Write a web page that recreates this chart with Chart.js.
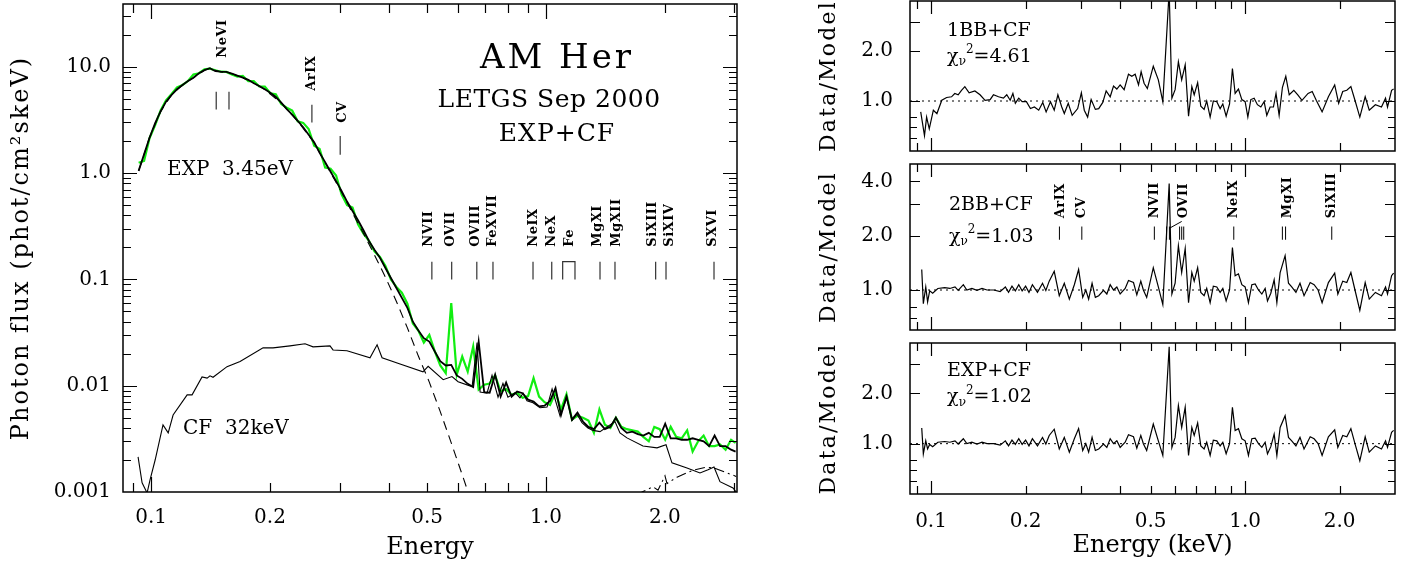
<!DOCTYPE html>
<html>
<head>
<meta charset="utf-8">
<script src="https://cdn.jsdelivr.net/npm/chart.js@4.4.1/dist/chart.umd.min.js"></script>
<style>
  body { margin: 0; background: #fff; }
  #wrap { position: relative; width: 1417px; height: 566px; }
  canvas { position: absolute; }
</style>
</head>
<body>
<div id="wrap">
  <canvas id="fluxChart" width="760" height="566" style="left:0;top:0"></canvas>
  <canvas id="ratio1" width="637" height="157" style="left:780px;top:0"></canvas>
  <canvas id="ratio2" width="637" height="180" style="left:780px;top:157px"></canvas>
  <canvas id="ratio3" width="637" height="229" style="left:780px;top:337px"></canvas>
</div>
<script>
// ---- spectrum (left panel), keV / phot cm^-2 s^-1 keV^-1 ----
var energy = [0.0930, 0.0960, 0.0991, 0.1024, 0.1057, 0.1091, 0.1127, 0.1163, 0.1201, 0.1240,
  0.1280, 0.1322, 0.1365, 0.1409, 0.1455, 0.1502, 0.1551, 0.1602, 0.1654, 0.1707,
  0.1763, 0.1820, 0.1879, 0.1941, 0.2004, 0.2069, 0.2136, 0.2206, 0.2277, 0.2351,
  0.2428, 0.2506, 0.2588, 0.2672, 0.2759, 0.2848, 0.2941, 0.3036, 0.3135, 0.3237,
  0.3342, 0.3450, 0.3562, 0.3678, 0.3798, 0.3921, 0.4048, 0.4180, 0.4315, 0.4457,
  0.4601, 0.4751, 0.4905, 0.5064, 0.5229, 0.5398, 0.5574, 0.5755, 0.5943, 0.6136,
  0.6335, 0.6541, 0.6753, 0.6973, 0.7199, 0.7433, 0.7675, 0.7925, 0.8182, 0.8448,
  0.8723, 0.9007, 0.9300, 0.9603, 0.9915, 1.0238, 1.0570, 1.0914, 1.1268, 1.1634,
  1.2012, 1.2403, 1.2806, 1.3222, 1.3652, 1.4096, 1.4555, 1.5027, 1.5515, 1.6020,
  1.6540, 1.7077, 1.7632, 1.8206, 1.8797, 1.9408, 2.0035, 2.0687, 2.1359, 2.2054,
  2.2771, 2.3510, 2.4276, 2.5064, 2.5882, 2.6722, 2.7590, 2.8489, 2.9414, 3.0200];

var dataFlux = [1.25, 1.30, 2.13, 2.83, 3.88, 4.84, 5.56, 6.4, 6.75, 7.35,
  8.45, 8.7, 9.49, 9.6, 9.28, 9.0, 8.95, 8.48, 8.09, 8.22,
  7.32, 7.35, 6.53, 6.52, 5.64, 5.51, 4.46, 4.12, 3.87, 3.07,
  2.97, 2.6, 1.81, 1.69, 1.13, 1.10, 0.95, 0.63, 0.50, 0.475,
  0.33, 0.27, 0.23, 0.184, 0.163, 0.134, 0.100, 0.085, 0.075, 0.059,
  0.0385, 0.033, 0.0255, 0.030, 0.021, 0.0155, 0.0131, 0.0598, 0.0127, 0.0188,
  0.0136, 0.0234, 0.0092, 0.0102, 0.0105, 0.0125, 0.0088, 0.0093, 0.0082, 0.0086,
  0.0077, 0.0080, 0.0118, 0.0079, 0.0070, 0.0066, 0.0086, 0.0060, 0.0083, 0.0048,
  0.0052, 0.0050, 0.0047, 0.0036, 0.0060, 0.0043, 0.0040, 0.0050, 0.0041, 0.0039,
  0.0038, 0.0037, 0.0033, 0.0030, 0.0041, 0.0039, 0.0031, 0.0041, 0.0033, 0.0032,
  0.0038, 0.0024, 0.0030, 0.0034, 0.0027, 0.0027, 0.0028, 0.0025, 0.0031, 0.0029];

var modelFlux = [1.05, 1.5, 2.15, 2.95, 3.8, 4.7, 5.45, 6.15, 6.75, 7.35,
  7.9, 8.7, 9.3, 9.7, 9.1, 9.0, 8.95, 8.65, 8.25, 7.9,
  7.55, 7.0, 6.6, 6.15, 5.7, 5.2, 4.6, 4.0, 3.55, 3.1,
  2.7, 2.3, 1.95, 1.55, 1.27, 1.03, 0.84, 0.68, 0.54, 0.44,
  0.36, 0.29, 0.23, 0.19, 0.16, 0.128, 0.103, 0.083, 0.067, 0.054,
  0.040, 0.033, 0.028, 0.026, 0.021, 0.017, 0.0155, 0.0157, 0.0125, 0.0116,
  0.0104, 0.0097, 0.026, 0.0087, 0.0086, 0.0127, 0.0079, 0.0107, 0.0079, 0.0088,
  0.0085, 0.0074, 0.0071, 0.0064, 0.0065, 0.0072, 0.0095, 0.0053, 0.0079, 0.0048,
  0.0056, 0.0046, 0.0041, 0.0039, 0.0045, 0.0039, 0.0041, 0.0050, 0.0040, 0.0036,
  0.0037, 0.0035, 0.0034, 0.0036, 0.0033, 0.0033, 0.0044, 0.0032, 0.0032, 0.0031,
  0.0031, 0.0032, 0.0031, 0.0030, 0.0027, 0.0034, 0.0027, 0.0027, 0.0025, 0.0024];

// EXP component (dashed)
var expEnergy = [0.0930, 0.0991, 0.1057, 0.1127, 0.1201, 0.1280, 0.1365, 0.1409, 0.1502, 0.1602,
  0.1763, 0.1941, 0.2136, 0.2351, 0.2588, 0.2848, 0.3036, 0.3237, 0.3450, 0.3678,
  0.3921, 0.4180, 0.4457, 0.4751, 0.5064, 0.5398, 0.5755, 0.6136, 0.6541];
var expFlux = [1.05, 2.15, 3.8, 5.45, 6.75, 7.9, 9.3, 9.65, 8.95, 8.6,
  7.5, 6.1, 4.57, 3.08, 1.93, 1.01, 0.66, 0.42, 0.27, 0.17,
  0.105, 0.062, 0.035, 0.019, 0.0108, 0.0057, 0.0029, 0.00145, 0.00072];

// CF component (thin line)
var cfEnergy = [0.0927, 0.0949, 0.0977, 0.0994, 0.1024, 0.1072, 0.1105, 0.1137, 0.1234, 0.1270,
  0.1346, 0.1386, 0.1410, 0.1435, 0.1557, 0.1680, 0.1921, 0.2036, 0.2248, 0.2454,
  0.2571, 0.2838, 0.2889, 0.3134, 0.3584, 0.3735, 0.3845, 0.4270, 0.4880, 0.5030,
  0.5490, 0.5780, 0.5990, 0.6500, 0.6690, 0.6810, 0.7090, 0.7300, 0.7560, 0.7780,
  0.8010, 0.8350, 0.8590, 0.8750, 0.8950, 0.9270, 0.9660, 1.0060, 1.0360, 1.0850,
  1.1300, 1.1640, 1.1980, 1.2330, 1.2770, 1.3150, 1.3700, 1.4950, 1.5390, 1.6030,
  1.7600, 1.9100, 2.0130, 2.0840, 2.2750, 2.4540, 2.5720, 2.6630, 2.7570, 2.9750, 3.0300];
var cfFlux = [0.00214, 0.00122, 0.00098, 0.0013, 0.0020, 0.00428, 0.0036, 0.0053, 0.0082, 0.0082,
  0.0121, 0.0118, 0.0124, 0.0120, 0.0151, 0.0169, 0.0227, 0.0227, 0.0237, 0.0248,
  0.0232, 0.0237, 0.0217, 0.0213, 0.0183, 0.0243, 0.0183, 0.0160, 0.0135, 0.0152,
  0.0114, 0.0122, 0.0109, 0.0098, 0.0255, 0.0087, 0.0085, 0.0125, 0.0078, 0.0105,
  0.0078, 0.0086, 0.0077, 0.0085, 0.0072, 0.0069, 0.0062, 0.0063, 0.0093, 0.0052,
  0.0077, 0.0047, 0.0054, 0.0045, 0.0040, 0.0038, 0.0037, 0.0046, 0.0036, 0.00323,
  0.00271, 0.0026, 0.00278, 0.00188, 0.00168, 0.00151, 0.00162, 0.00172, 0.00125, 0.00109, 0.00100];

// hard component (dash-dot)
var ddEnergy = [1.70, 1.75, 1.866, 1.921, 2.001, 2.025, 2.146, 2.356, 2.527, 2.647, 2.96, 3.03];
var ddFlux = [0.00092, 0.00100, 0.00112, 0.00104, 0.00142, 0.00120, 0.00138, 0.00160, 0.00170, 0.00170, 0.00145, 0.00140];

// line identifications, left panel
var markEnergy = [0.1462, 0.1575, 0.2554, 0.3012, 0.514, 0.577, 0.668, 0.734, 0.927, 1.034, 1.370, 1.495, 1.895, 2.013, 2.663];
var markLo = [3.97, 3.97, 2.99, 1.49, 0.1, 0.1, 0.1, 0.1, 0.1, 0.1, 0.1, 0.1, 0.1, 0.1, 0.1];
var markHi = [5.82, 5.82, 4.39, 2.24, 0.147, 0.147, 0.147, 0.147, 0.147, 0.147, 0.147, 0.147, 0.147, 0.147, 0.147];
var feEnergy = [1.102, 1.102, 1.184, 1.184];
var feFlux = [0.1, 0.147, 0.147, 0.1];
var lineNames = ['NeVI', 'ArIX', 'CV', 'NVII', 'OVII', 'OVIII', 'FeXVII', 'NeIX', 'NeX', 'Fe', 'MgXI', 'MgXII', 'SiXIII', 'SiXIV', 'SXVI'];
var lineNameE = [0.152, 0.2557, 0.306, 0.503, 0.575, 0.665, 0.734, 0.932, 1.036, 1.150, 1.354, 1.512, 1.866, 2.061, 2.647];
var lineNameF = [12.2, 5.95, 2.97, 0.203, 0.203, 0.203, 0.203, 0.203, 0.203, 0.203, 0.203, 0.203, 0.203, 0.203, 0.203];

// ---- data/model ratios (right panels) ----
var ratioEnergy = [0.0934, 0.0945, 0.0962, 0.0975, 0.0990, 0.1012, 0.1051, 0.1105, 0.1148, 0.1192,
  0.1220, 0.1267, 0.1300, 0.1349, 0.1400, 0.1453, 0.1507, 0.1583, 0.1660, 0.1724,
  0.1765, 0.1810, 0.1855, 0.1902, 0.1950, 0.2000, 0.2050, 0.2102, 0.2182, 0.2264,
  0.2320, 0.2378, 0.2467, 0.2560, 0.2656, 0.2756, 0.2859, 0.2950, 0.3040, 0.3110,
  0.3175, 0.3256, 0.3335, 0.3418, 0.3541, 0.3628, 0.3718, 0.3810, 0.3904, 0.4000,
  0.4150, 0.4252, 0.4411, 0.4520, 0.4654, 0.4742, 0.4859, 0.5100, 0.5292, 0.5469,
  0.5730, 0.5845, 0.5985, 0.6130, 0.6280, 0.6444, 0.6604, 0.6765, 0.6884, 0.7060,
  0.7225, 0.7402, 0.7545, 0.7737, 0.7920, 0.8125, 0.8325, 0.8490, 0.8700, 0.8920,
  0.9110, 0.9293, 0.9520, 0.9761, 1.0000, 1.0245, 1.0503, 1.0761, 1.1025, 1.1302,
  1.1580, 1.1780, 1.2070, 1.2370, 1.2618, 1.2925, 1.3405, 1.3740, 1.407, 1.451,
  1.495, 1.540, 1.611, 1.658, 1.707, 1.758, 1.841, 1.928, 1.973, 2.045,
  2.107, 2.171, 2.237, 2.318, 2.411, 2.484, 2.598, 2.717, 2.799, 2.840,
  2.926, 2.970];

var ratioExpCF = [1.24, 0.87, 1.04, 0.93, 0.99, 0.96, 1.02, 1.03, 1.02, 1.04,
  0.995, 1.07, 1.0, 1.02, 0.995, 1.02, 1.0, 1.0, 0.98, 1.04,
  0.97, 1.05, 0.99, 1.07, 0.99, 1.05, 0.97, 1.07, 0.97, 1.09,
  0.995, 1.12, 1.22, 0.93, 1.09, 0.89, 1.07, 1.23, 0.91, 1.0,
  0.89, 1.09, 0.91, 0.93, 0.995, 0.95, 1.07, 1.0, 1.04, 0.95,
  1.02, 1.13, 1.10, 0.94, 1.12, 1.0, 0.91, 1.31, 1.04, 0.85,
  3.8, 0.95, 1.09, 1.69, 1.25, 1.65, 0.85, 1.25, 1.12, 1.33,
  0.97, 0.93, 1.02, 0.85, 1.05, 1.04, 0.97, 1.02, 0.87, 1.0,
  1.65, 1.2, 1.23, 1.07, 1.04, 0.85, 1.07, 1.08, 1.0, 0.95,
  1.02, 0.87, 0.96, 1.14, 0.85, 1.25, 1.47, 1.09, 1.04, 0.97,
  1.09, 0.93, 1.10, 1.07, 1.0, 0.85, 1.10, 1.21, 0.95, 1.12,
  1.10, 1.23, 1.0, 0.79, 1.10, 0.89, 0.97, 0.93, 1.04, 0.95,
  1.17, 1.2];

var ratio2BB = [1.30, 0.84, 1.04, 0.86, 0.99, 0.96, 1.02, 1.03, 1.02, 1.04,
  0.995, 1.07, 1.0, 1.02, 0.995, 1.02, 1.0, 1.0, 0.98, 1.04,
  0.97, 1.05, 0.99, 1.07, 0.99, 1.05, 0.97, 1.07, 0.97, 1.09,
  0.995, 1.12, 1.27, 0.93, 1.09, 0.89, 1.07, 1.30, 0.91, 1.0,
  0.89, 1.09, 0.91, 0.93, 0.995, 0.95, 1.07, 1.0, 1.04, 0.95,
  1.02, 1.13, 1.10, 0.94, 1.12, 1.0, 0.91, 1.33, 1.04, 0.83,
  3.9, 0.95, 1.09, 1.76, 1.25, 1.70, 0.85, 1.25, 1.12, 1.33,
  0.97, 0.93, 1.02, 0.85, 1.05, 1.04, 0.97, 1.02, 0.87, 1.0,
  1.72, 1.2, 1.23, 1.07, 1.04, 0.85, 1.07, 1.08, 1.0, 0.95,
  1.02, 0.87, 0.96, 1.14, 0.85, 1.25, 1.55, 1.09, 1.04, 0.97,
  1.09, 0.93, 1.10, 1.07, 1.0, 0.85, 1.10, 1.24, 0.95, 1.12,
  1.10, 1.25, 1.0, 0.77, 1.10, 0.89, 0.97, 0.93, 1.04, 0.95,
  1.20, 1.24];

var ratio1Energy = [0.0927, 0.0953, 0.0968, 0.0987, 0.1017, 0.1044, 0.1082, 0.1121, 0.1162, 0.1190,
  0.1220, 0.1250, 0.1281, 0.1322, 0.1379, 0.1432, 0.1486, 0.1542, 0.1580, 0.1640,
  0.1700, 0.1742, 0.1786, 0.1822, 0.1855, 0.1902, 0.1950, 0.2012, 0.2072, 0.2133,
  0.2202, 0.2268, 0.2325, 0.2400, 0.2467, 0.2534, 0.2607, 0.2656, 0.2734, 0.2814,
  0.2930, 0.3010, 0.3075, 0.3152, 0.3234, 0.3335, 0.3418, 0.3522, 0.3610, 0.3718,
  0.3810, 0.3904, 0.4000, 0.4119, 0.4252, 0.4357, 0.4465, 0.4577, 0.4665, 0.4767,
  0.4883, 0.5100, 0.5292, 0.5469, 0.5730, 0.5845, 0.5985, 0.6130, 0.6280, 0.6444,
  0.6604, 0.6765, 0.6884, 0.7060, 0.7225, 0.7402, 0.7545, 0.7737, 0.7920, 0.8125,
  0.8325, 0.8490, 0.8700, 0.8920, 0.9110, 0.9293, 0.9520, 0.9761, 1.0000, 1.0200,
  1.0426, 1.0682, 1.0943, 1.1220, 1.1493, 1.1720, 1.2010, 1.2305, 1.2540, 1.2830,
  1.3145, 1.3472, 1.3815, 1.429, 1.471, 1.517, 1.586, 1.635, 1.684, 1.758,
  1.841, 1.928, 1.985, 2.045, 2.107, 2.171, 2.237, 2.318, 2.411, 2.484,
  2.598, 2.717, 2.799, 2.840, 2.926, 2.970];
var ratio1BB = [0.86, 0.62, 0.80, 0.68, 0.88, 0.84, 1.01, 1.05, 1.06, 1.11,
  1.09, 1.16, 1.22, 1.12, 1.15, 1.09, 1.01, 1.02, 1.09, 1.06,
  1.04, 1.09, 1.01, 1.11, 0.97, 1.04, 0.99, 0.99, 0.90, 0.92,
  0.88, 0.98, 0.86, 0.99, 0.88, 1.09, 0.92, 0.84, 0.97, 0.82,
  0.90, 1.12, 0.88, 0.80, 1.02, 0.89, 0.90, 0.98, 1.15, 1.06,
  1.23, 1.18, 1.25, 1.17, 1.45, 1.41, 1.45, 1.25, 1.50, 1.28,
  1.19, 1.62, 1.34, 0.99, 4.6, 1.04, 1.17, 1.72, 1.34, 1.65,
  0.81, 1.22, 1.09, 1.29, 0.93, 0.89, 1.0, 0.80, 1.0, 0.99,
  0.90, 0.96, 0.81, 0.96, 1.57, 1.11, 1.18, 1.02, 0.99, 0.80,
  1.02, 1.04, 0.95, 0.92, 0.99, 0.82, 0.92, 0.92, 1.11, 0.82,
  1.21, 1.41, 1.09, 1.16, 1.09, 1.01, 1.11, 1.14, 1.01, 0.86,
  1.06, 1.25, 0.97, 1.14, 1.16, 1.22, 1.01, 0.80, 1.06, 0.88,
  0.95, 0.92, 1.04, 0.92, 1.16, 1.18];

var unityEnergy = [0.0857, 3.0];
var unityRatio = [1, 1];

// line identifications, 2BB+CF panel
var r2MarkE = [0.2563, 0.302, 0.514, 0.5623, 0.574, 0.6185, 0.6281, 0.6375, 0.920, 1.314, 1.345, 1.887];
var r2MarkLo = [1.90, 1.90, 1.90, 1.90, 1.90, 1.90, 1.90, 1.90, 1.90, 1.90, 1.90, 1.90];
var r2MarkHi = [2.25, 2.25, 2.25, 2.25, 2.25, 2.25, 2.25, 2.25, 2.25, 2.25, 2.25, 2.25];
var r2LeaderE = [0.6281, 0.574];
var r2LeaderR = [2.40, 2.20];
var r2Names = ['ArIX', 'CV', 'NVII', 'OVII', 'NeIX', 'MgXI', 'SiXIII'];
var r2NameE = [0.2587, 0.302, 0.514, 0.6375, 0.920, 1.365, 1.887];
var r2NameR = [2.50, 2.50, 2.50, 2.50, 2.50, 2.50, 2.50];

// ---- ticks ----
var xTickValues = [0.09, 0.1, 0.2, 0.3, 0.4, 0.5, 0.6, 0.7, 0.8, 0.9, 1, 2, 3];
var xTickText = ['', '0.1', '0.2', '', '', '0.5', '', '', '', '', '1.0', '2.0', ''];
var fluxTickValues = [0.001, 0.002, 0.003, 0.004, 0.005, 0.006, 0.007, 0.008, 0.009,
  0.01, 0.02, 0.03, 0.04, 0.05, 0.06, 0.07, 0.08, 0.09,
  0.1, 0.2, 0.3, 0.4, 0.5, 0.6, 0.7, 0.8, 0.9,
  1, 2, 3, 4, 5, 6, 7, 8, 9, 10, 20, 30];
var fluxTickText = ['0.001', '', '', '', '', '', '', '', '',
  '0.01', '', '', '', '', '', '', '', '',
  '0.1', '', '', '', '', '', '', '', '',
  '1.0', '', '', '', '', '', '', '', '', '10.0', '', ''];
var ratioTickValues = [0.6, 0.7, 0.8, 1, 2, 3, 4];
var ratioTickText = ['', '', '', '1.0', '2.0', '', ''];
var ratio2TickText = ['', '', '', '1.0', '2.0', '', '4.0'];

var SERIF = "'DejaVu Serif', 'Liberation Serif', serif";
Chart.defaults.color = '#000';
Chart.defaults.font.family = SERIF;

function pts(xs, ys) {
  return xs.map(function (x, i) { return { x: x, y: ys[i] }; });
}
function sticks(xs, lo, hi) {
  var out = [];
  xs.forEach(function (x, i) {
    out.push({ x: x, y: lo[i] }, { x: x, y: hi[i] }, { x: x, y: null });
  });
  return out;
}
function fixSize(size) {
  return function (s) {
    if (s.isHorizontal()) s.height = size; else s.width = size;
    s.paddingTop = s.paddingBottom = s.paddingLeft = s.paddingRight = 0;
  };
}
function setTicks(values) {
  return function (s) { s.ticks = values.map(function (v) { return { value: v }; }); };
}
function isDecade(v) {
  var l = Math.log10(v);
  return Math.abs(l - Math.round(l)) < 1e-6;
}

// inward tick marks on all four sides + frame
function makeFrame(cfg) {
  return {
    id: 'frame',
    afterDatasetsDraw: function (chart) {
      var ctx = chart.ctx, a = chart.chartArea, x = chart.scales.x, y = chart.scales.y;
      ctx.save();
      ctx.strokeStyle = '#000';
      ctx.lineWidth = 1.2;
      ctx.beginPath();
      x.ticks.forEach(function (t) {
        var px = Math.round(x.getPixelForValue(t.value)) + 0.5;
        if (px <= a.left + 1 || px >= a.right - 1) return;
        var len = isDecade(t.value) ? cfg.xLong : cfg.xShort;
        ctx.moveTo(px, a.bottom); ctx.lineTo(px, a.bottom - len);
        ctx.moveTo(px, a.top); ctx.lineTo(px, a.top + len);
      });
      y.ticks.forEach(function (t) {
        var py = Math.round(y.getPixelForValue(t.value)) + 0.5;
        if (py <= a.top + 1 || py >= a.bottom - 1) return;
        var long = cfg.yLongDecades ? isDecade(t.value) : cfg.yLongValues.indexOf(t.value) >= 0;
        var len = long ? cfg.yLong : cfg.yShort;
        ctx.moveTo(a.left, py); ctx.lineTo(a.left + len, py);
        ctx.moveTo(a.right, py); ctx.lineTo(a.right - len, py);
      });
      ctx.stroke();
      ctx.lineWidth = 1.5;
      ctx.strokeRect(a.left, a.top, a.right - a.left, a.bottom - a.top);
      ctx.restore();
    }
  };
}

// text placed in data coordinates (or, for axis titles, beside the plot area)
function makeText(items) {
  return {
    id: 'texts',
    afterDraw: function (chart) {
      var ctx = chart.ctx, a = chart.chartArea;
      items.forEach(function (it) {
        var px, py;
        if (it.canvasX !== undefined) {
          px = it.canvasX;
          py = (a.top + a.bottom) / 2;
        } else {
          px = chart.scales.x.getPixelForValue(it.x);
          py = chart.scales.y.getPixelForValue(it.y);
        }
        var parts = it.parts || [{ t: it.text }];
        ctx.save();
        ctx.translate(px, py);
        if (it.rotate) ctx.rotate(-Math.PI / 2);
        ctx.fillStyle = '#000';
        ctx.textBaseline = 'middle';
        ctx.textAlign = 'left';
        ctx.letterSpacing = (it.spacing || 0) + 'px';
        var fontOf = function (p) {
          return (it.weight || '') + ' ' + (p.sub || p.sup ? Math.round(it.size * 0.62) : it.size) + 'px ' + SERIF;
        };
        var total = 0;
        parts.forEach(function (p) { ctx.font = fontOf(p); total += ctx.measureText(p.t).width; });
        var cx = it.align === 'center' ? -total / 2 : 0;
        parts.forEach(function (p) {
          ctx.font = fontOf(p);
          var dy = p.sub ? it.size * 0.28 : (p.sup ? -it.size * 0.36 : 0);
          ctx.fillText(p.t, cx, dy);
          cx += ctx.measureText(p.t).width;
        });
        ctx.restore();
      });
    }
  };
}

function chiParts(val) {
  return [{ t: '\u03c7' }, { t: '\u03bd', sub: true }, { t: '2', sup: true }, { t: '=' + val }];
}

// ---- left: spectrum ----
var leftTexts = [
  { text: 'AM Her', x: 1.066, y: 11.7, size: 34, spacing: 3, align: 'center' },
  { text: 'LETGS Sep 2000', x: 1.018, y: 4.79, size: 25, spacing: 0.5, align: 'center' },
  { text: 'EXP+CF', x: 1.066, y: 2.29, size: 25, spacing: 1, align: 'center' },
  { text: 'EXP  3.45eV', x: 0.1098, y: 1.074, size: 20 },
  { text: 'CF  32keV', x: 0.1205, y: 0.00389, size: 20 },
  { text: 'Photon flux (phot/cm\u00b2skeV)', canvasX: 22, size: 24, spacing: 2, rotate: true, align: 'center' }
];
lineNames.forEach(function (n, i) {
  leftTexts.push({ text: n, x: lineNameE[i], y: lineNameF[i], size: 13, weight: 'bold', spacing: 0.5, rotate: true });
});

new Chart(document.getElementById('fluxChart'), {
  type: 'line',
  data: {
    datasets: [
      { data: sticks(markEnergy, markLo, markHi), borderColor: '#333', borderWidth: 1.2 },
      { data: pts(feEnergy, feFlux), borderColor: '#333', borderWidth: 1.2 },
      { data: pts(energy, modelFlux), borderColor: '#000', borderWidth: 1.8 },
      { data: pts(cfEnergy, cfFlux), borderColor: '#000', borderWidth: 1.1 },
      { data: pts(expEnergy, expFlux), borderColor: '#000', borderWidth: 1.1, borderDash: [9, 6] },
      { data: pts(ddEnergy, ddFlux), borderColor: '#000', borderWidth: 1.1, borderDash: [10, 4, 2, 4] },
      { data: pts(energy, dataFlux), borderColor: '#11ee11', borderWidth: 2.2 }
    ]
  },
  options: {
    responsive: false,
    animation: false,
    layout: { padding: { top: 4, right: 23, left: 0, bottom: 0 }, autoPadding: false },
    elements: { point: { radius: 0 }, line: { tension: 0 } },
    plugins: { legend: { display: false }, tooltip: { enabled: false } },
    scales: {
      x: {
        type: 'logarithmic', min: 0.0849, max: 3.045,
        afterBuildTicks: setTicks(xTickValues),
        afterFit: fixSize(74),
        grid: { display: false, drawTicks: false },
        border: { display: false },
        ticks: {
          autoSkip: false, maxRotation: 0, padding: 14,
          font: { size: 20 },
          callback: function (v, i) { return xTickText[i]; }
        },
        title: { display: true, text: 'Energy', font: { size: 24 }, padding: { bottom: 4 } }
      },
      y: {
        type: 'logarithmic', min: 0.001, max: 39,
        afterBuildTicks: setTicks(fluxTickValues),
        afterFit: fixSize(123),
        grid: { display: false, drawTicks: false },
        border: { display: false },
        ticks: {
          autoSkip: false, padding: 12,
          font: { size: 20 },
          callback: function (v, i) { return fluxTickText[i]; }
        },
        title: { display: false }
      }
    }
  },
  plugins: [
    makeFrame({ xLong: 15, xShort: 9, yLong: 14, yShort: 8, yLongDecades: true }),
    makeText(leftTexts)
  ]
});

// ---- right: data/model panels ----
function ratioChart(id, cfg) {
  var datasets = (cfg.extra || []).concat([
    { data: pts(cfg.energy, cfg.ratio), borderColor: '#000', borderWidth: 1.2 },
    { data: pts(unityEnergy, unityRatio), borderColor: '#000', borderWidth: 1, borderDash: [2, 4] }
  ]);
  var texts = cfg.texts.concat([
    { text: 'Data/Model', canvasX: 49, size: 22, spacing: 2.2, rotate: true, align: 'center' }
  ]);
  return new Chart(document.getElementById(id), {
    type: 'line',
    data: { datasets: datasets },
    options: {
      responsive: false,
      animation: false,
      layout: { padding: { top: cfg.top, right: 22, left: 0, bottom: 0 }, autoPadding: false },
      elements: { point: { radius: 0 }, line: { tension: 0 } },
      plugins: { legend: { display: false }, tooltip: { enabled: false } },
      scales: {
        x: {
          type: 'logarithmic', min: 0.0857, max: 3.0,
          afterBuildTicks: setTicks(xTickValues),
          afterFit: fixSize(cfg.bottom),
          grid: { display: false, drawTicks: false },
          border: { display: false },
          ticks: {
            display: cfg.xLabels, autoSkip: false, maxRotation: 0, padding: 16,
            font: { size: 20 },
            callback: function (v, i) { return xTickText[i]; }
          },
          title: { display: cfg.xLabels, text: 'Energy (keV)', font: { size: 24 }, padding: { bottom: 6 } }
        },
        y: {
          type: 'logarithmic', min: cfg.yMin, max: cfg.yMax,
          afterBuildTicks: setTicks(ratioTickValues),
          afterFit: fixSize(130),
          grid: { display: false, drawTicks: false },
          border: { display: false },
          ticks: {
            autoSkip: false, padding: 17,
            font: { size: 20 },
            callback: function (v, i) { return cfg.yText[i]; }
          },
          title: { display: false }
        }
      }
    },
    plugins: [
      makeFrame({ xLong: 13, xShort: 8, yLong: 10, yShort: 7, yLongValues: [1, 2, 3, 4] }),
      makeText(texts)
    ]
  });
}

ratioChart('ratio1', {
  energy: ratio1Energy, ratio: ratio1BB, yMin: 0.5, yMax: 4.0, yText: ratioTickText,
  top: 1, bottom: 6, xLabels: false,
  texts: [
    { text: '1BB+CF', x: 0.1125, y: 2.64, size: 19 },
    { parts: chiParts('4.61'), x: 0.1125, y: 1.84, size: 19 }
  ]
});

var r2Texts = [
  { text: '2BB+CF', x: 0.114, y: 2.97, size: 19 },
  { parts: chiParts('1.03'), x: 0.114, y: 1.97, size: 19 }
];
r2Names.forEach(function (n, i) {
  r2Texts.push({ text: n, x: r2NameE[i], y: r2NameR[i], size: 13, weight: 'bold', spacing: 0.5, rotate: true });
});
ratioChart('ratio2', {
  energy: ratioEnergy, ratio: ratio2BB, yMin: 0.6, yMax: 5.0, yText: ratio2TickText,
  top: 7, bottom: 7, xLabels: false,
  extra: [
    { data: sticks(r2MarkE, r2MarkLo, r2MarkHi), borderColor: '#000', borderWidth: 1 },
    { data: pts(r2LeaderE, r2LeaderR), borderColor: '#000', borderWidth: 1 }
  ],
  texts: r2Texts
});

ratioChart('ratio3', {
  energy: ratioEnergy, ratio: ratioExpCF, yMin: 0.5, yMax: 4.0, yText: ratioTickText,
  top: 6, bottom: 72, xLabels: true,
  texts: [
    { text: 'EXP+CF', x: 0.1125, y: 2.71, size: 19 },
    { parts: chiParts('1.02'), x: 0.1125, y: 1.89, size: 19 }
  ]
});
</script>
</body>
</html>
